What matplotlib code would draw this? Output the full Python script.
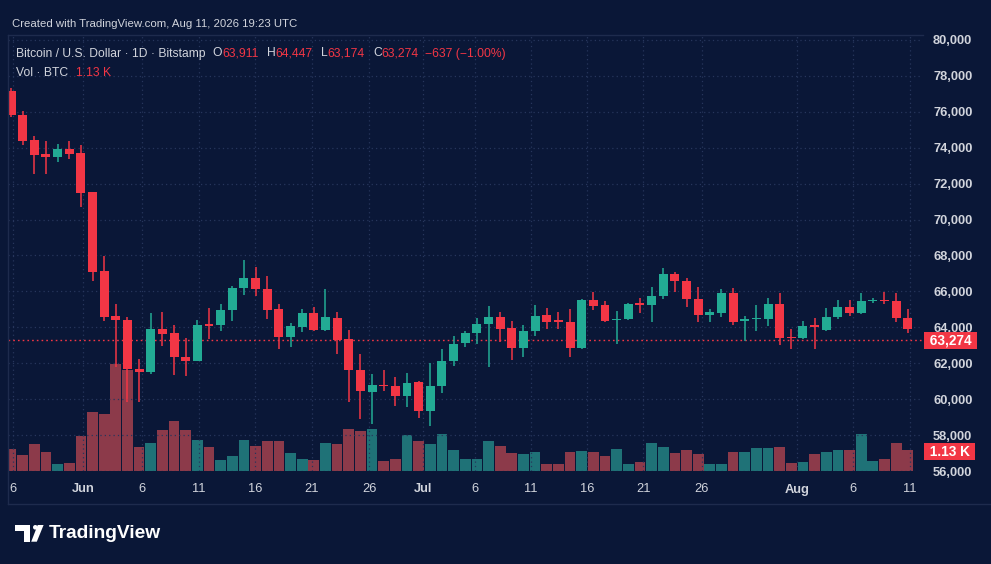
import matplotlib
matplotlib.use("Agg")
import matplotlib.pyplot as plt
import matplotlib.patches as mpatches
import matplotlib.transforms as mtransforms
from matplotlib.lines import Line2D
from matplotlib.ticker import FuncFormatter
import numpy as np
import pandas as pd

# ---------------------------------------------------------------------------
# Data
# ---------------------------------------------------------------------------
OPEN = [77167, 75850, 74444, 73650, 73461, 73928, 73683, 71517, 67128, 64611,
        64406, 61706, 61517, 63928, 63706, 62372, 62128, 64167, 64111, 64961,
        66183, 66761, 66150, 65039, 63483, 64039, 64817, 63850, 64539, 63333,
        61628, 60406, 60778, 60706, 60183, 60928, 59317, 60706, 62128, 63150,
        63706, 64167, 64594, 63944, 62833, 63794, 64667, 64389, 64317, 62833,
        65500, 65239, 64389, 64444, 65333, 65239, 65739, 66983, 66572, 65594,
        64683, 64817, 65928, 64333, 64444, 64483, 65278, 63483, 63389, 64111,
        63850, 64594, 65150, 64817, 65461, 65517, 65444, 64539]
HIGH = [77300, 76072, 74667, 74389, 74206, 74389, 74167, 71550, 67961, 65317,
        64556, 62222, 64778, 64850, 64150, 63406, 64406, 65056, 65278, 66294,
        67739, 67372, 66850, 65317, 64261, 65000, 65150, 66111, 64850, 63850,
        62539, 61428, 61611, 61261, 61444, 61000, 62000, 62817, 63517, 63800,
        64500, 65183, 64872, 64350, 64111, 65222, 65056, 64850, 65039, 65556,
        65983, 65461, 64906, 65372, 65650, 66261, 67317, 67072, 66761, 66261,
        65000, 66111, 66206, 64628, 65222, 65650, 65928, 63928, 64350, 64539,
        65094, 65517, 65517, 65889, 65650, 65983, 65889, 65039]
LOW = [75700, 74167, 72539, 72539, 73206, 73389, 70683, 66594, 64372, 61800,
       59817, 59817, 61389, 62961, 61372, 61294, 62100, 63372, 63794, 64350,
       65778, 65739, 64444, 62817, 62928, 63761, 63794, 63800, 62500, 59817,
       58900, 58600, 60472, 59594, 59572, 58928, 58483, 60333, 61850, 62928,
       63072, 61800, 63183, 62167, 62350, 63517, 63889, 63889, 62350, 62800,
       64944, 64294, 63094, 64406, 64817, 64294, 65594, 65961, 65150, 64294,
       64317, 64594, 64111, 63239, 63794, 64072, 63000, 62817, 63333, 62817,
       63794, 64444, 64628, 64722, 65372, 65278, 64294, 63667]
CLOSE = [75833, 74389, 73594, 73461, 73928, 73667, 71483, 67072, 64556, 64428,
         61667, 61517, 63928, 63650, 62333, 62111, 64128, 64072, 64961, 66183,
         66761, 66111, 64961, 63483, 64072, 64817, 63850, 64556, 63294, 61628,
         60428, 60778, 60722, 60183, 60889, 59317, 60706, 62111, 63094, 63706,
         64167, 64594, 63889, 62833, 63794, 64628, 64317, 64317, 62833, 65500,
         65183, 64350, 64483, 65317, 65239, 65739, 66944, 66572, 65594, 64667,
         64872, 65928, 64294, 64444, 64539, 65278, 63389, 63389, 64072, 64039,
         64594, 65150, 64817, 65444, 65517, 65444, 64539, 63900]
VOLUME = [1180, 880, 1470, 1010, 380, 410, 1880, 3160, 3070, 5770,
          5430, 1280, 1510, 2190, 2690, 2190, 1670, 1310, 590, 810,
          1680, 1360, 1610, 1610, 950, 650, 590, 1490, 1450, 2240,
          2170, 2240, 540, 660, 1920, 1610, 1440, 1970, 1110, 660,
          630, 1590, 1330, 950, 910, 1020, 390, 360, 1040, 1080,
          1020, 820, 1180, 380, 480, 1510, 1310, 980, 1150, 930,
          380, 380, 1040, 1040, 1220, 1240, 1280, 450, 470, 910,
          1010, 1130, 1150, 1970, 520, 650, 1520, 1130]
DATES = pd.date_range("2026-05-26", periods=len(OPEN), freq="D")

# x-axis labels as they sit under the candles
X_TICK_POS = [0.15, 6.21, 11.22, 16.14, 20.95, 25.82, 30.77, 35.40, 39.84,
              44.65, 49.49, 54.29, 59.31, 67.52, 72.33, 77.19]
X_TICK_LABELS = ["6", "Jun", "6", "11", "16", "21", "26", "Jul", "6",
                 "11", "16", "21", "26", "Aug", "6", "11"]
MONTHS = {"Jun", "Jul", "Aug"}
Y_TICKS = list(range(56000, 80001, 2000))

LAST_O, LAST_H, LAST_L, LAST_C = 63911, 64447, 63174, 63274
LAST_CHANGE, LAST_PCT = -637, -1.00
LAST_VOL = "1.13 K"

# ---------------------------------------------------------------------------
# Style
# ---------------------------------------------------------------------------
W, H = 991, 564
BG = "#0a1737"
GRID = "#27365c"
FRAME = "#1e2b4d"
TEXT = "#d1d4dc"
UP = "#22ab94"
DOWN = "#f23645"
VOL_UP = "#1f7277"
VOL_DOWN = "#8c3a4a"
FONT = ["Liberation Sans", "DejaVu Sans"]
plt.rcParams["font.family"] = FONT

fig = plt.figure(figsize=(W / 100, H / 100), dpi=100, facecolor=BG)


def fx(px):
    return px / W


def fy(py):
    return 1 - py / H


ax = fig.add_axes([fx(8), fy(471), (922 - 8) / W, (471 - 35) / H])
vol = ax.twinx()
ax.set_zorder(vol.get_zorder() + 1)
ax.patch.set_visible(False)
vol.patch.set_visible(False)

x = np.arange(len(OPEN))
o = np.array(OPEN)
c = np.array(CLOSE)
up = c >= o

# volume
vol.bar(x, VOLUME, width=0.92, color=np.where(up, VOL_UP, VOL_DOWN), linewidth=0)
vol.set_ylim(0, 23450)
vol.set_yticks([])
for s in vol.spines.values():
    s.set_visible(False)

# candles
colors = np.where(up, UP, DOWN)
ax.vlines(x, LOW, HIGH, colors=colors, linewidth=1.1, zorder=3)
body = np.maximum(np.abs(c - o), 70)
ax.bar(x, body, bottom=np.minimum(o, c), width=0.77, color=colors,
       linewidth=0, zorder=4)

ax.axhline(LAST_C, color=DOWN, linestyle=(0, (1.2, 2.2)), linewidth=1.0, zorder=2)

ax.set_xlim(-0.26, 78.22)
ax.set_ylim(56000, 80278)
ax.set_yticks(Y_TICKS)
ax.yaxis.set_major_formatter(FuncFormatter(lambda v, _: f"{int(v):,}"))
ax.yaxis.tick_right()
ax.set_xticks(X_TICK_POS, X_TICK_LABELS)
ax.tick_params(axis="both", length=0, colors=TEXT, labelsize=9.3)
ax.tick_params(axis="x", pad=9)
ax.tick_params(axis="y", pad=8)
for lab in ax.get_xticklabels():
    if lab.get_text() in MONTHS:
        lab.set_fontweight("bold")
for lab in ax.get_yticklabels():
    lab.set_fontweight("bold")
ax.grid(True, color=GRID, linestyle=(0, (1, 2.5)), linewidth=0.9)
ax.set_axisbelow(True)
for s in ax.spines.values():
    s.set_visible(False)

# price / volume badges on the right scale
badge = dict(boxstyle="square,pad=0.12", fc=DOWN, ec="none")
trans = mtransforms.blended_transform_factory(ax.transAxes, ax.transData)
ax.text(1.0045, LAST_C, f" {LAST_C:,} ", transform=trans, ha="left", va="center",
        color="white", fontsize=9.8, fontweight="bold", clip_on=False, bbox=badge)
vtrans = mtransforms.blended_transform_factory(vol.transAxes, vol.transData)
vol.text(1.0045, VOLUME[-1] - 100, f" {LAST_VOL} ", transform=vtrans, ha="left",
         va="center", color="white", fontsize=9.8, fontweight="bold",
         clip_on=False, bbox=badge)

# chart frame
for (x0, y0, x1, y1) in [(8, 35, 923, 35), (8, 35, 8, 504), (8, 504, 991, 504)]:
    fig.add_artist(Line2D([fx(x0), fx(x1)], [fy(y0), fy(y1)], color=FRAME,
                          linewidth=1.0, transform=fig.transFigure))

# header
fig.text(fx(12), fy(24), "Created with TradingView.com, Aug 11, 2026 19:23 UTC",
         color=TEXT, fontsize=8.2, va="center", ha="left")


def chain(pieces, x0, y0):
    prev = fig.text(fx(x0), fy(y0), pieces[0][0], color=pieces[0][1],
                    fontsize=8.7, va="baseline", ha="left")
    for s, col, gap in pieces[1:]:
        prev = ax.annotate(s, xy=(1, 0), xycoords=prev, xytext=(gap, 0),
                           textcoords="offset points", color=col, fontsize=8.7,
                           va="bottom", ha="left", annotation_clip=False)


chain([("Bitcoin / U.S. Dollar · 1D · Bitstamp", TEXT),
       ("O", TEXT, 5), (f"{LAST_O:,}", DOWN, 0),
       ("H", TEXT, 6), (f"{LAST_H:,}", DOWN, 0),
       ("L", TEXT, 6), (f"{LAST_L:,}", DOWN, 0),
       ("C", TEXT, 6), (f"{LAST_C:,}", DOWN, 0),
       (f"\u2212{abs(LAST_CHANGE)} (\u2212{abs(LAST_PCT):.2f}%)", DOWN, 4.5)],
      16, 56.5)
chain([("Vol · BTC", TEXT), (LAST_VOL, DOWN, 6)], 16, 76)

# TradingView logo
logo = [
    mpatches.Polygon([(15, 525), (30, 525), (30, 541.7), (24, 541.7), (24, 530.5), (15, 530.5)]),
    mpatches.Circle((35.3, 527.3), 2.3),
    mpatches.Polygon([(37.7, 525), (43.6, 525), (36.8, 541.7), (31.2, 541.7)]),
]
for p in logo:
    if isinstance(p, mpatches.Circle):
        cx, cy = p.center
        p = mpatches.Ellipse((fx(cx), fy(cy)), p.radius * 2 / W, p.radius * 2 / H)
    else:
        xy = p.get_xy()
        p = mpatches.Polygon([(fx(a), fy(b)) for a, b in xy])
    p.set_facecolor("white")
    p.set_edgecolor("none")
    p.set_transform(fig.transFigure)
    fig.add_artist(p)
fig.text(fx(49), fy(533.5), "TradingView", color="white", fontsize=13.8,
         fontweight="bold", va="center", ha="left")

fig.savefig("out.png", dpi=100, facecolor=BG)
